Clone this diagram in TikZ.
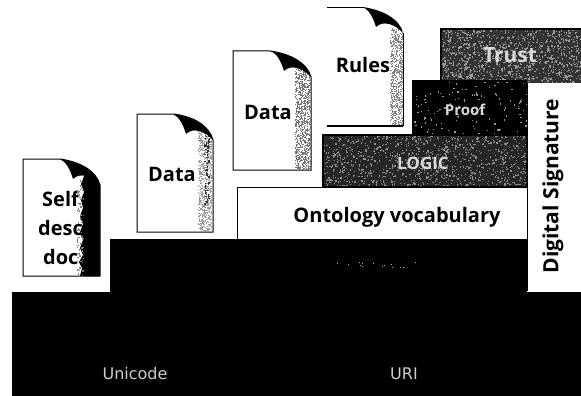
\documentclass[tikz,border=0pt]{standalone}
\usepackage{fontspec}
\setmainfont{DejaVu Sans}
\newfontfamily\lblfont{Open Sans}
\tikzset{
  x=1pt,y=-1pt,
  lay/.style={draw=black,line width=1pt},
  doc/.style={draw=black,line width=1pt,fill=white},
  darklbl/.style={font=\lblfont\bfseries\fontsize{20}{22}\selectfont,text=black,inner sep=0pt},
  lightlbl/.style={font=\lblfont\bfseries\fontsize{19}{21}\selectfont,text=white!85!black,inner sep=0pt},
  baselbl/.style={font=\fontsize{16}{18}\selectfont,text=white!80!black,inner sep=0pt},
}
% random specks: x y w h count colour size
\newcommand{\specks}[7]{%
  \foreach \i in {1,...,#5}{%
    \pgfmathsetmacro{\sx}{#1+rnd*#3}%
    \pgfmathsetmacro{\sy}{#2+rnd*#4}%
    \fill[#6] (\sx,\sy) rectangle ++(#7,#7);%
  }%
}
% L T R B : page outline
\newcommand{\pageoutline}[4]{(#1,#2) -- ({#1+37},#2) .. controls ({#1+58},{#2+3}) and ({#3-4},{#2+12}) .. (#3,{#2+26}) -- (#3,#4) -- (#1,#4) -- cycle}
\newcommand{\pagefold}[2]{% R T of the page
  \fill[black] ({#1-40},#2) .. controls ({#1-20},{#2+3}) and ({#1-3},{#2+12}) .. (#1,{#2+26})
    .. controls ({#1-8},{#2+17}) and ({#1-20},{#2+13}) .. ({#1-27},{#2+20})
    .. controls ({#1-30},{#2+10}) and ({#1-34},{#2+3}) .. ({#1-40},#2) -- cycle;}
\begin{document}
\begin{tikzpicture}
\useasboundingbox (0,0) rectangle (581,396);
\pgfmathsetseed{4242}
\fill[white] (0,0) rectangle (581,396);

% layers
\fill[black] (12,292) rectangle (581,396);
\fill[black] (110,239) rectangle (527,292);
\draw[lay,fill=white] (237,187) rectangle (527,239);

\fill[black!80] (441,29) rectangle (581,83);
\begin{scope}
  \clip (441,29) rectangle (581,83);
  \specks{441}{29}{140}{54}{1000}{white!60!black}{1.3}
\end{scope}
\draw[black,line width=1.5pt] (441,83) -- (441,29) -- (581,29);
\fill[black] (413,81) rectangle (527,135);
\begin{scope}
  \clip (413,81) rectangle (527,135);
  \specks{413}{81}{114}{54}{130}{white!60!black}{1.3}
\end{scope}
\draw[black,line width=1.5pt] (413,135) -- (413,81) -- (527,81);
\fill[black!85] (323,135) rectangle (527,187);
\begin{scope}
  \clip (323,135) rectangle (527,187);
  \specks{323}{135}{204}{52}{1000}{white!55!black}{1.3}
\end{scope}
\draw[black,line width=1.5pt] (323,187) -- (323,135) -- (527,135) -- (527,187) -- cycle;
\fill[white] (527,83) rectangle (581,291);
\draw[black,line width=.6pt] (527,83) -- (527,291);

% faint residue of the layer caption on the black band
\specks{335}{262}{85}{5}{14}{white!70!black}{1}

% documents
\draw[doc] \pageoutline{23}{159}{100}{276};
\node[darklbl,anchor=west] (self) at (42,199) {Self};
\node[darklbl,anchor=west] (desc) at (38,228) {desc};
\node[darklbl,anchor=west] (docu) at (43,257) {doc};
\begin{scope}
  \clip \pageoutline{23}{159}{100}{276};
  \fill[black] (84,176) -- (100,176) -- (100,276) -- (80,276)
    -- (82,268) -- (79,262) -- (83,255) -- (80,248) -- (83,240) -- (80,232)
    -- (83,224) -- (80,216) -- (83,208) -- (81,200) -- (84,192) -- (81,184) -- cycle;
  \specks{76}{178}{7}{98}{70}{black!50}{1.3}
\end{scope}
\pagefold{100}{159}

\draw[doc] \pageoutline{137}{114}{213}{232};
\begin{scope}
  \clip \pageoutline{137}{114}{213}{232};
  \specks{198}{130}{15}{102}{900}{black!40}{1}
  \specks{204}{135}{5}{70}{70}{black!80}{1.4}
\end{scope}
\pagefold{213}{114}

\draw[doc] \pageoutline{233}{51}{311}{170};
\begin{scope}
  \clip \pageoutline{233}{51}{311}{170};
  \specks{295}{68}{16}{102}{1100}{black!55}{1}
\end{scope}
\pagefold{311}{51}

\fill[white] \pageoutline{327}{7}{403}{126};
\begin{scope}
  \clip \pageoutline{327}{7}{403}{126};
  \specks{390}{28}{13}{98}{800}{black!50}{1}
\end{scope}
\draw[black,line width=.8pt] (327,7) -- (364,7);
\draw[black,line width=1pt] (403,33) -- (403,126);
\draw[black,line width=1.6pt] (327,126) -- (403,126);
\pagefold{403}{7}

% labels
\node[darklbl] (data1) at (172,174) {Data};
\node[darklbl] (data2) at (268,112) {Data};
\node[darklbl] (rules) at (363,65) {Rules};
\node[lightlbl,font=\lblfont\bfseries\fontsize{21}{23}\selectfont] (trust) at (510,55) {Trust};
\node[lightlbl,font=\lblfont\bfseries\fontsize{15}{17}\selectfont] (proof) at (465,110) {Proof};
\node[lightlbl,font=\lblfont\bfseries\fontsize{17}{19}\selectfont] (logic) at (423,163) {LOGIC};
\node[font=\lblfont\bfseries\fontsize{20}{22}\selectfont,inner sep=0pt] (onto) at (397,217) {Ontology vocabulary};
\node[font=\lblfont\bfseries\fontsize{21}{23}\selectfont,inner sep=0pt,rotate=90] (sig) at (553,186) {Digital Signature};
\node[baselbl] (uni) at (135,374) {Unicode};
\node[baselbl] (uri) at (404,374) {URI};
\end{tikzpicture}
\end{document}
